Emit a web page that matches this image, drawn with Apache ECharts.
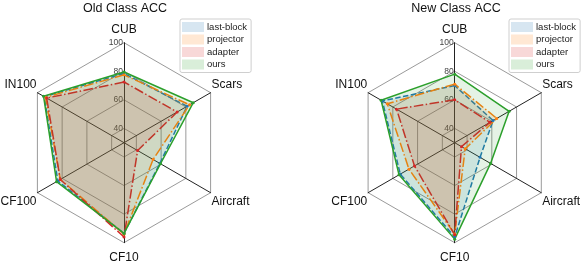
<!DOCTYPE html>
<html>
<head>
<meta charset="utf-8">
<script src="https://cdn.jsdelivr.net/npm/echarts@6/dist/echarts.min.js"></script>
<style>
html,body{margin:0;padding:0;background:#fff;}
#chart{width:582px;height:264px;}
</style>
</head>
<body>
<div id="chart"></div>
<script>
// Axes in clockwise order starting at the top
var categories = ['CUB', 'Scars', 'Aircraft', 'CF10', 'CF100', 'IN100'];
var methods = ['last-block', 'projector', 'adapter', 'ours'];
var tickLabels = [40, 60, 80, 100];
var axisMin = 30, axisMax = 100;

var oldTitle = 'Old Class ACC';
var oldLastBlock = [78.5, 81, 59, 93.5, 83.5, 94.5];
var oldProjector = [77.5, 83, 53.5, 94, 81.5, 93.5];
var oldAdapter   = [72.5, 73, 41, 96, 81.5, 92.5];
var oldOurs      = [79.5, 86, 59.5, 93.5, 84.5, 95];

var newTitle = 'New Class ACC';
var newLastBlock = [70, 61, 50.5, 96, 74, 88.5];
var newProjector = [71, 64, 38.5, 94, 67, 84.5];
var newAdapter   = [60, 58.5, 35.5, 94.5, 62.5, 77];
var newOurs      = [78, 74, 59, 97.5, 75, 89.5];

var colors = ['#1f77b4', '#ff7f0e', '#d62728', '#2ca02c'];
var fills = ['rgba(31,119,180,0.18)', 'rgba(255,127,14,0.18)', 'rgba(214,39,40,0.18)', 'rgba(44,160,44,0.18)'];
var dashes = [[5.5, 2.4], [9.6, 2.4, 1.5, 2.4], [9.6, 2.4, 1.5, 2.4], 'solid'];

// ECharts radar goes counter-clockwise: reorder clockwise list
var ccw = [0, 5, 4, 3, 2, 1];
function reorder(arr) { return ccw.map(function (i) { return arr[i]; }); }

var FONT = 'Liberation Sans, Arial, sans-serif';
// label style key for each clockwise axis position
var nameStyleKeys = ['top', 'up', 'down', 'bottom', 'down', 'up'];
var nameStyleByName = {};
categories.forEach(function (c, i) { nameStyleByName[c] = nameStyleKeys[i]; });

function nameRich(pad) {
  return { fontSize: 12, fontFamily: FONT, color: '#111', padding: pad };
}

function makeRadar(center) {
  return {
    center: center,
    radius: 100,
    startAngle: 90,
    shape: 'polygon',
    splitNumber: 7,
    indicator: reorder(categories).map(function (c, i) {
      var ind = { name: c, min: axisMin, max: axisMax };
      if (i === 0) ind.axisLabel = { show: true };
      return ind;
    }),
    axisName: {
      color: '#111', fontSize: 12, fontFamily: FONT,
      formatter: function (name) { return '{' + nameStyleByName[name] + '|' + name + '}'; },
      rich: {
        top: nameRich([0, 0, 6, 0]),
        bottom: nameRich([7.5, 0, 0, 0]),
        up: nameRich([0, 0, 16, 0]),
        down: nameRich([16, 0, 0, 0])
      }
    },
    nameGap: 1,
    axisLine: { lineStyle: { color: '#222', width: 1 } },
    axisTick: { show: false },
    axisLabel: {
      show: false,
      fontSize: 8.5,
      fontFamily: FONT,
      color: '#444',
      margin: 1,
      formatter: function (v) { return tickLabels.indexOf(Math.round(v)) >= 0 ? String(Math.round(v)) : ''; }
    },
    splitLine: { lineStyle: { color: ['rgba(0,0,0,0)', '#9a9a9a'], width: 1 } },
    splitArea: { show: false }
  };
}

function makeSeries(idx, sets) {
  return {
    type: 'radar',
    radarIndex: idx,
    silent: true,
    animation: false,
    symbol: 'circle',
    symbolSize: 3,
    data: sets.map(function (vals, k) {
      return {
        name: methods[k],
        value: reorder(vals),
        lineStyle: { color: colors[k], width: 1.5, type: dashes[k] },
        itemStyle: { color: colors[k] },
        areaStyle: { color: fills[k] }
      };
    })
  };
}

function makeLegend(left) {
  return {
    orient: 'vertical',
    left: left,
    top: 19,
    align: 'left',
    icon: 'rect',
    itemWidth: 22,
    itemHeight: 10,
    itemGap: 2.5,
    padding: [3, 4, 3, 2],
    borderColor: '#cfcfcf',
    borderWidth: 1,
    borderRadius: 2,
    backgroundColor: 'rgba(255,255,255,0.8)',
    textStyle: { fontSize: 9.5, fontFamily: FONT, color: '#222', padding: [0, 0, 0, -2] },
    data: methods.map(function (m, k) {
      return { name: m, itemStyle: { color: fills[k], borderWidth: 0 } };
    })
  };
}

var chart = echarts.init(document.getElementById('chart'), null, { renderer: 'canvas' });
chart.setOption({
  animation: false,
  backgroundColor: '#fff',
  title: [
    { text: oldTitle, left: 125, top: 2, textAlign: 'center', padding: 0,
      textStyle: { fontSize: 12.5, fontWeight: 'normal', color: '#111', fontFamily: FONT } },
    { text: newTitle, left: 456, top: 2, textAlign: 'center', padding: 0,
      textStyle: { fontSize: 12.5, fontWeight: 'normal', color: '#111', fontFamily: FONT } }
  ],
  legend: [makeLegend(180), makeLegend(509)],
  radar: [makeRadar([124, 142.7]), makeRadar([454.7, 142.7])],
  series: [
    makeSeries(0, [oldLastBlock, oldProjector, oldAdapter, oldOurs]),
    makeSeries(1, [newLastBlock, newProjector, newAdapter, newOurs])
  ]
});
</script>
</body>
</html>
